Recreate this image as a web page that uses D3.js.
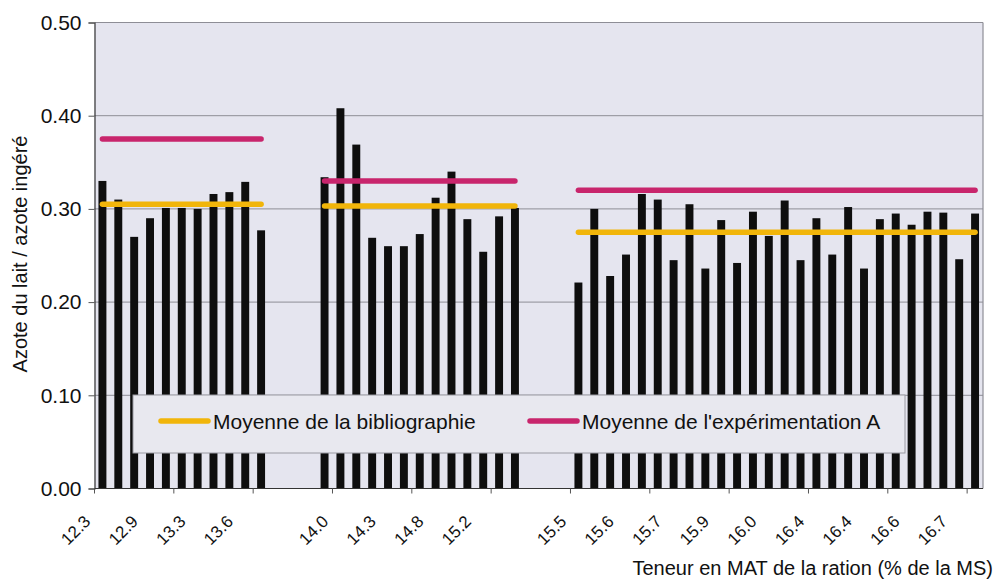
<!DOCTYPE html>
<html><head><meta charset="utf-8">
<script src="https://cdn.jsdelivr.net/npm/d3@7"></script>
<style>
body{margin:0;background:#fff}
svg{display:block}
text{font-family:"Liberation Sans",Arial,Helvetica,sans-serif;fill:#111}
</style>
</head><body>
<svg id="chart" width="1000" height="586"></svg>
<script>
// ---- data ----
const group1 = [0.330, 0.310, 0.270, 0.290, 0.301, 0.301, 0.300, 0.316, 0.318, 0.329, 0.277];
const group2 = [0.334, 0.408, 0.369, 0.269, 0.260, 0.260, 0.273, 0.312, 0.340, 0.289, 0.254, 0.292, 0.301];
const group3 = [0.221, 0.300, 0.228, 0.251, 0.316, 0.310, 0.245, 0.305, 0.236, 0.288, 0.242, 0.297, 0.271,
                0.309, 0.245, 0.290, 0.251, 0.302, 0.236, 0.289, 0.295, 0.283, 0.297, 0.296, 0.246, 0.295];
const gapSize = 3;                                   // empty categories between groups
const biblioMeans = [0.305, 0.303, 0.275];           // "Moyenne de la bibliographie"
const expAMeans   = [0.375, 0.330, 0.320];           // "Moyenne de l'expérimentation A"
const tickLabels = ["12.3","12.9","13.3","13.6","","14.0","14.3","14.8","15.2","",
                    "15.5","15.6","15.7","15.9","16.0","16.4","16.4","16.6","16.7"];
const labelStep = 3;   // one label every 3 categories
const tickStep = 5;    // one tick mark every 5 categories
const yTicks = [0, 0.1, 0.2, 0.3, 0.4, 0.5];
const legendLabels = ["Moyenne de la bibliographie", "Moyenne de l'expérimentation A"];
const yTitle = "Azote du lait / azote ingéré";
const xTitle = "Teneur en MAT de la ration (% de la MS)";

// ---- build category slots ----
const groups = [group1, group2, group3];
const slots = [];
const groupSlots = [];
groups.forEach((g, gi) => {
  if (gi > 0) for (let k = 0; k < gapSize; k++) slots.push({i: slots.length, v: null});
  const s = [];
  g.forEach(v => { const o = {i: slots.length, v}; slots.push(o); s.push(o); });
  groupSlots.push(s);
});
const n = slots.length;

// ---- layout ----
const L = 94.5, R = 983, T = 22.5, B = 488.5;
const COL_BIBLIO = "#f1b50a", COL_EXPA = "#c8256c";

const svg = d3.select("#chart");
const x = d3.scaleBand().domain(d3.range(n)).range([L, R]).paddingInner(0.5).paddingOuter(0.25);
const step = x.step();
const cx = i => x(i) + x.bandwidth() / 2;
const y = d3.scaleLinear().domain([0, 0.5]).range([B, T]);

// plot area
svg.append("rect").attr("x", L).attr("y", T).attr("width", R - L).attr("height", B - T)
  .attr("fill", "#e5e5ef");

// gridlines
svg.append("g").selectAll("line").data(yTicks.filter(d => d > 0)).join("line")
  .attr("x1", L).attr("x2", R).attr("y1", d => y(d)).attr("y2", d => y(d))
  .attr("stroke", "#8e8e96").attr("stroke-width", 1);
// right border
svg.append("line").attr("x1", R).attr("x2", R).attr("y1", T).attr("y2", B)
  .attr("stroke", "#8e8e96").attr("stroke-width", 1.2);

// bars
svg.append("g").selectAll("rect").data(slots.filter(d => d.v != null)).join("rect")
  .attr("x", d => x(d.i)).attr("width", x.bandwidth())
  .attr("y", d => y(d.v)).attr("height", d => y(0) - y(d.v))
  .attr("fill", "#0e0e0e");

// mean lines
const line = d3.line().x(d => cx(d.i)).y(d => y(d.m));
function drawMeans(means, color) {
  groupSlots.forEach((s, gi) => {
    svg.append("path")
      .datum(s.map(o => ({i: o.i, m: means[gi]})))
      .attr("d", line).attr("fill", "none")
      .attr("stroke", color).attr("stroke-width", 5.5).attr("stroke-linecap", "round");
  });
}
drawMeans(biblioMeans, COL_BIBLIO);
drawMeans(expAMeans, COL_EXPA);

// legend
const lg = svg.append("g");
lg.append("rect").attr("x", 133).attr("y", 395).attr("width", 772).attr("height", 58)
  .attr("fill", "#e8e8ef").attr("stroke", "#9a9aa2").attr("stroke-width", 1);
const legendItems = [
  {label: legendLabels[0], color: COL_BIBLIO, x1: 161},
  {label: legendLabels[1], color: COL_EXPA, x1: 530}
];
legendItems.forEach(it => {
  lg.append("line").attr("x1", it.x1).attr("x2", it.x1 + 47).attr("y1", 421).attr("y2", 421)
    .attr("stroke", it.color).attr("stroke-width", 5.5).attr("stroke-linecap", "round");
  lg.append("text").attr("x", it.x1 + 52).attr("y", 429).attr("font-size", 21).text(it.label);
});

// y axis
const yAxis = svg.append("g").attr("transform", `translate(${L},0)`)
  .call(d3.axisLeft(y).tickValues(yTicks).tickFormat(d3.format(".2f")).tickSize(6).tickPadding(7));
yAxis.select(".domain").attr("stroke", "#333").attr("stroke-width", 1.2);
yAxis.selectAll(".tick line").attr("stroke", "#555");
yAxis.selectAll("text").attr("font-size", 21).attr("fill", "#111")
  .attr("font-family", "'Liberation Sans', Arial, sans-serif");

// x axis line + ticks
svg.append("line").attr("x1", L).attr("x2", R).attr("y1", B).attr("y2", B)
  .attr("stroke", "#333").attr("stroke-width", 1.2);
const tickIdx = d3.range(0, n, tickStep);
svg.append("g").selectAll("line").data(tickIdx).join("line")
  .attr("x1", d => x(d) - step * 0.25).attr("x2", d => x(d) - step * 0.25)
  .attr("y1", B).attr("y2", B + 5).attr("stroke", "#555");

// x tick labels (rotated)
svg.append("g").selectAll("text").data(tickLabels.map((t, k) => ({t, i: k * labelStep}))).join("text")
  .attr("transform", d => `translate(${cx(d.i) - 11},${B + 34}) rotate(-45)`)
  .attr("text-anchor", "end").attr("font-size", 17).text(d => d.t);

// axis titles
svg.append("text").attr("transform", `translate(27,254) rotate(-90)`)
  .attr("text-anchor", "middle").attr("font-size", 20).text(yTitle);
svg.append("text").attr("x", 993).attr("y", 575).attr("text-anchor", "end")
  .attr("font-size", 20).text(xTitle);
</script>
</body></html>
